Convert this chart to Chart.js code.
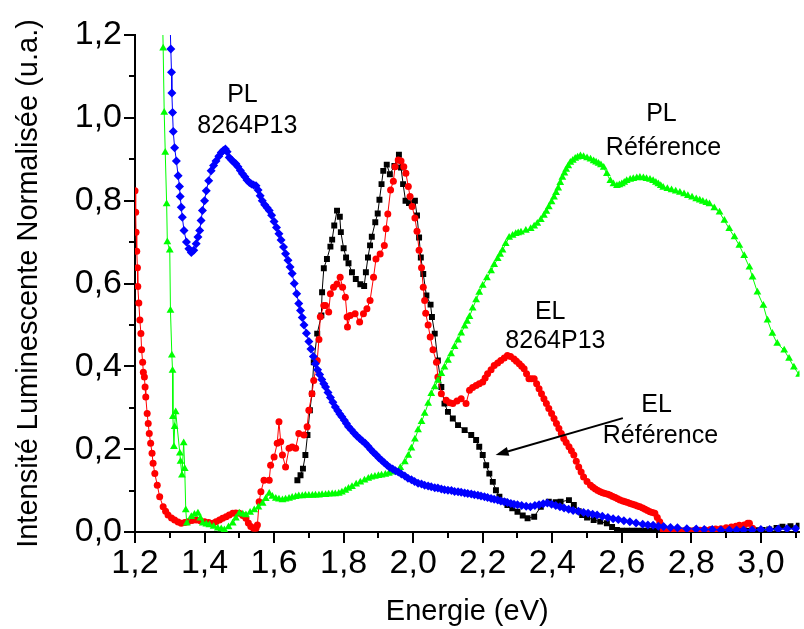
<!DOCTYPE html>
<html>
<head>
<meta charset="utf-8">
<script src="https://cdn.jsdelivr.net/npm/chart.js@4.4.1/dist/chart.umd.min.js"></script>
<style>
  html, body { margin: 0; padding: 0; background: #fff; }
</style>
</head>
<body>
<canvas id="spectra" width="804" height="629"></canvas>
<script>
"use strict";

// axis ticks
const xMajor = [1.2, 1.4, 1.6, 1.8, 2.0, 2.2, 2.4, 2.6, 2.8, 3.0];
const xMinor = [1.3, 1.5, 1.7, 1.9, 2.1, 2.3, 2.5, 2.7, 2.9, 3.1];
const yMajor = [0, 0.2, 0.4, 0.6, 0.8, 1.0, 1.2];
const yMinor = [0.1, 0.3, 0.5, 0.7, 0.9, 1.1];

// PL 8264P13 (blue diamonds)
const pl8264 = [
  [1.300, 1.26], [1.303, 1.166], [1.305, 1.11], [1.306, 1.06], [1.308, 1.013], [1.310, 0.967],
  [1.314, 0.928], [1.319, 0.896], [1.324, 0.86], [1.328, 0.834], [1.330, 0.81], [1.333, 0.784],
  [1.336, 0.76], [1.341, 0.728], [1.348, 0.70], [1.355, 0.684], [1.362, 0.675], [1.369, 0.68],
  [1.376, 0.696], [1.381, 0.712], [1.386, 0.728], [1.390, 0.752], [1.394, 0.776], [1.400, 0.80],
  [1.405, 0.824], [1.412, 0.848], [1.419, 0.872], [1.426, 0.885], [1.433, 0.896], [1.441, 0.907],
  [1.448, 0.916], [1.454, 0.921], [1.460, 0.925], [1.465, 0.918], [1.471, 0.904], [1.478, 0.898],
  [1.484, 0.893], [1.490, 0.889], [1.496, 0.882], [1.503, 0.873], [1.509, 0.865], [1.516, 0.858],
  [1.522, 0.85], [1.529, 0.844], [1.535, 0.84], [1.541, 0.838], [1.548, 0.836], [1.554, 0.826],
  [1.560, 0.812], [1.566, 0.80], [1.573, 0.79], [1.580, 0.783], [1.586, 0.776], [1.593, 0.765],
  [1.600, 0.75], [1.607, 0.735], [1.614, 0.72], [1.620, 0.705], [1.627, 0.688], [1.633, 0.672],
  [1.640, 0.656], [1.646, 0.64], [1.652, 0.624], [1.658, 0.60], [1.665, 0.575], [1.671, 0.552],
  [1.676, 0.535], [1.681, 0.518], [1.686, 0.50], [1.693, 0.48], [1.700, 0.46], [1.706, 0.442],
  [1.713, 0.424], [1.719, 0.406], [1.725, 0.392], [1.731, 0.38], [1.737, 0.368], [1.743, 0.358],
  [1.748, 0.35], [1.755, 0.337], [1.762, 0.325], [1.769, 0.313], [1.776, 0.302], [1.783, 0.293],
  [1.789, 0.285], [1.795, 0.278], [1.802, 0.27], [1.808, 0.262], [1.814, 0.254], [1.822, 0.247],
  [1.830, 0.239], [1.838, 0.232], [1.846, 0.226], [1.854, 0.22], [1.862, 0.214], [1.870, 0.207],
  [1.878, 0.199], [1.886, 0.192], [1.894, 0.186], [1.901, 0.179], [1.909, 0.173], [1.917, 0.167],
  [1.925, 0.161], [1.933, 0.156], [1.941, 0.152], [1.949, 0.148], [1.957, 0.145], [1.966, 0.14],
  [1.976, 0.135], [1.985, 0.13], [1.995, 0.126], [2.004, 0.122], [2.014, 0.118], [2.024, 0.116],
  [2.033, 0.113], [2.043, 0.111], [2.052, 0.109], [2.062, 0.107], [2.071, 0.106], [2.081, 0.104],
  [2.090, 0.102], [2.100, 0.101], [2.110, 0.10], [2.119, 0.098], [2.129, 0.097], [2.138, 0.096],
  [2.148, 0.094], [2.157, 0.093], [2.167, 0.092], [2.176, 0.09], [2.186, 0.089], [2.195, 0.087],
  [2.205, 0.085], [2.214, 0.083], [2.224, 0.081], [2.233, 0.079], [2.243, 0.077], [2.252, 0.075],
  [2.262, 0.073], [2.271, 0.071], [2.281, 0.069], [2.290, 0.067], [2.300, 0.066], [2.312, 0.064],
  [2.325, 0.062], [2.337, 0.061], [2.350, 0.064], [2.362, 0.066], [2.374, 0.068], [2.386, 0.07],
  [2.398, 0.067], [2.410, 0.064], [2.422, 0.061], [2.434, 0.058], [2.447, 0.055], [2.460, 0.052],
  [2.475, 0.05], [2.490, 0.047], [2.503, 0.045], [2.516, 0.043], [2.529, 0.041], [2.544, 0.038],
  [2.560, 0.035], [2.575, 0.032], [2.590, 0.030], [2.606, 0.027], [2.623, 0.025], [2.641, 0.022],
  [2.660, 0.019], [2.675, 0.017], [2.690, 0.016], [2.705, 0.014], [2.720, 0.013], [2.740, 0.011],
  [2.760, 0.010], [2.787, 0.008], [2.814, 0.007], [2.837, 0.006], [2.860, 0.006], [2.885, 0.005],
  [2.909, 0.005], [2.930, 0.005], [2.950, 0.005], [2.975, 0.005], [3.000, 0.006], [3.025, 0.006],
  [3.050, 0.007], [3.075, 0.008], [3.100, 0.008]
];

// PL Référence (green triangles)
const plRef = [
  [1.279, 1.26], [1.281, 1.168], [1.284, 1.013], [1.287, 0.916], [1.291, 0.792], [1.293, 0.70],
  [1.300, 0.68], [1.302, 0.535], [1.306, 0.427], [1.308, 0.39], [1.309, 0.278], [1.312, 0.206],
  [1.314, 0.254], [1.317, 0.29], [1.329, 0.19], [1.331, 0.17], [1.335, 0.137], [1.340, 0.215],
  [1.343, 0.153], [1.346, 0.053], [1.349, 0.021], [1.362, 0.037], [1.371, 0.042], [1.381, 0.045],
  [1.388, 0.033], [1.395, 0.021], [1.405, 0.019], [1.414, 0.017], [1.426, 0.013], [1.438, 0.009],
  [1.448, 0.007], [1.457, 0.005], [1.469, 0.012], [1.481, 0.021], [1.490, 0.033], [1.500, 0.045],
  [1.510, 0.043], [1.519, 0.041], [1.531, 0.047], [1.543, 0.053], [1.555, 0.06], [1.567, 0.069],
  [1.576, 0.08], [1.586, 0.093], [1.595, 0.086], [1.605, 0.081], [1.614, 0.079], [1.624, 0.077],
  [1.633, 0.079], [1.643, 0.081], [1.652, 0.083], [1.662, 0.085], [1.671, 0.087], [1.681, 0.087],
  [1.690, 0.088], [1.700, 0.088], [1.710, 0.088], [1.719, 0.089], [1.729, 0.089], [1.738, 0.09],
  [1.748, 0.09], [1.757, 0.091], [1.767, 0.092], [1.776, 0.092], [1.786, 0.093], [1.795, 0.096],
  [1.805, 0.10], [1.814, 0.105], [1.824, 0.109], [1.836, 0.115], [1.848, 0.12], [1.860, 0.125],
  [1.871, 0.129], [1.880, 0.132], [1.890, 0.134], [1.900, 0.136], [1.909, 0.137], [1.920, 0.139],
  [1.930, 0.141], [1.939, 0.144], [1.948, 0.147], [1.963, 0.155], [1.976, 0.169], [1.986, 0.185],
  [1.995, 0.202], [2.005, 0.224], [2.014, 0.246], [2.024, 0.266], [2.033, 0.286], [2.043, 0.31],
  [2.052, 0.334], [2.062, 0.35], [2.071, 0.366], [2.081, 0.382], [2.090, 0.398], [2.100, 0.414],
  [2.109, 0.43], [2.119, 0.447], [2.129, 0.463], [2.138, 0.48], [2.148, 0.497], [2.155, 0.508],
  [2.162, 0.52], [2.171, 0.54], [2.181, 0.56], [2.190, 0.578], [2.200, 0.595], [2.212, 0.613],
  [2.224, 0.63], [2.233, 0.645], [2.243, 0.66], [2.250, 0.67], [2.257, 0.68], [2.266, 0.696],
  [2.276, 0.711], [2.286, 0.716], [2.295, 0.72], [2.302, 0.722], [2.310, 0.724], [2.324, 0.728],
  [2.338, 0.732], [2.348, 0.738], [2.357, 0.745], [2.367, 0.754], [2.376, 0.764], [2.383, 0.774],
  [2.390, 0.785], [2.398, 0.797], [2.405, 0.808], [2.411, 0.819], [2.417, 0.83], [2.423, 0.843],
  [2.429, 0.856], [2.435, 0.866], [2.440, 0.875], [2.446, 0.884], [2.452, 0.892], [2.459, 0.897],
  [2.466, 0.902], [2.473, 0.905], [2.481, 0.908], [2.490, 0.906], [2.500, 0.903], [2.510, 0.90],
  [2.519, 0.896], [2.526, 0.893], [2.533, 0.89], [2.540, 0.886], [2.548, 0.88], [2.557, 0.865],
  [2.567, 0.848], [2.576, 0.84], [2.586, 0.836], [2.593, 0.838], [2.600, 0.84], [2.607, 0.844],
  [2.614, 0.848], [2.624, 0.851], [2.633, 0.853], [2.643, 0.855], [2.652, 0.856], [2.662, 0.855],
  [2.671, 0.853], [2.681, 0.851], [2.690, 0.848], [2.698, 0.844], [2.705, 0.84], [2.712, 0.836],
  [2.719, 0.832], [2.731, 0.829], [2.743, 0.826], [2.755, 0.823], [2.767, 0.82], [2.779, 0.816],
  [2.790, 0.812], [2.802, 0.808], [2.814, 0.804], [2.824, 0.801], [2.833, 0.798], [2.843, 0.795],
  [2.852, 0.792], [2.866, 0.782], [2.881, 0.772], [2.895, 0.752], [2.909, 0.732], [2.924, 0.712],
  [2.938, 0.692], [2.952, 0.667], [2.967, 0.639], [2.976, 0.615], [2.990, 0.579], [3.007, 0.547],
  [3.019, 0.511], [3.033, 0.479], [3.047, 0.455], [3.067, 0.439], [3.081, 0.419], [3.095, 0.398],
  [3.110, 0.38]
];

// EL Référence (black squares)
const elRef = [
  [1.667, 0.125], [1.676, 0.137], [1.683, 0.153], [1.690, 0.186], [1.696, 0.234], [1.703, 0.294],
  [1.709, 0.334], [1.714, 0.41], [1.724, 0.479], [1.736, 0.523], [1.738, 0.579], [1.743, 0.637],
  [1.752, 0.659], [1.762, 0.689], [1.767, 0.706], [1.773, 0.74], [1.781, 0.776], [1.789, 0.761],
  [1.792, 0.724], [1.800, 0.685], [1.807, 0.663], [1.814, 0.649], [1.824, 0.627], [1.835, 0.611],
  [1.848, 0.598], [1.859, 0.594], [1.864, 0.627], [1.870, 0.663], [1.876, 0.692], [1.881, 0.713],
  [1.891, 0.748], [1.898, 0.769], [1.903, 0.802], [1.909, 0.84], [1.914, 0.872], [1.924, 0.887],
  [1.933, 0.864], [1.946, 0.884], [1.959, 0.911], [1.965, 0.88], [1.971, 0.84], [1.978, 0.80],
  [1.988, 0.794], [2.005, 0.80], [2.011, 0.764], [2.017, 0.711], [2.022, 0.663], [2.029, 0.623],
  [2.038, 0.571], [2.050, 0.549], [2.054, 0.519], [2.062, 0.479], [2.071, 0.414], [2.081, 0.35],
  [2.090, 0.31], [2.100, 0.29], [2.114, 0.274], [2.129, 0.258], [2.148, 0.246], [2.167, 0.234],
  [2.181, 0.222], [2.190, 0.206], [2.200, 0.186], [2.210, 0.161], [2.219, 0.141], [2.229, 0.121],
  [2.238, 0.101], [2.248, 0.085], [2.260, 0.074], [2.271, 0.065], [2.285, 0.057], [2.300, 0.049],
  [2.315, 0.04], [2.329, 0.033], [2.348, 0.037], [2.367, 0.061], [2.390, 0.073], [2.410, 0.072],
  [2.424, 0.073], [2.448, 0.077], [2.462, 0.065], [2.476, 0.05], [2.486, 0.041], [2.500, 0.035],
  [2.519, 0.029], [2.538, 0.025], [2.557, 0.021], [2.572, 0.012], [2.586, 0.005], [2.600, 0.003],
  [2.615, 0.003], [2.630, 0.003], [2.645, 0.003], [2.660, 0.003], [2.675, 0.003], [2.690, 0.003],
  [2.705, 0.003], [2.720, 0.003], [2.735, 0.003], [2.750, 0.003], [2.765, 0.003], [2.780, 0.003],
  [2.795, 0.003], [2.810, 0.003], [2.825, 0.003], [2.840, 0.003], [2.855, 0.003], [2.870, 0.003],
  [2.885, 0.003], [2.900, 0.003], [2.915, 0.003], [2.930, 0.003], [2.945, 0.003], [2.960, 0.003],
  [2.975, 0.003], [2.990, 0.004], [3.005, 0.005], [3.024, 0.006], [3.045, 0.01], [3.062, 0.013],
  [3.085, 0.014], [3.109, 0.015]
];

// EL 8264P13 (red circles)
const el8264 = [
  [1.200, 0.824], [1.202, 0.772], [1.203, 0.724], [1.205, 0.678], [1.207, 0.638], [1.208, 0.593],
  [1.211, 0.553], [1.214, 0.512], [1.217, 0.479], [1.219, 0.44], [1.222, 0.41], [1.224, 0.386],
  [1.227, 0.374], [1.229, 0.35], [1.231, 0.326], [1.235, 0.286], [1.238, 0.262], [1.241, 0.238],
  [1.245, 0.214], [1.249, 0.19], [1.252, 0.166], [1.257, 0.141], [1.264, 0.113], [1.271, 0.085],
  [1.281, 0.061], [1.288, 0.05], [1.295, 0.041], [1.305, 0.034], [1.314, 0.029], [1.324, 0.024],
  [1.333, 0.021], [1.343, 0.023], [1.352, 0.025], [1.364, 0.028], [1.376, 0.029], [1.388, 0.027],
  [1.400, 0.025], [1.412, 0.023], [1.424, 0.021], [1.433, 0.025], [1.443, 0.029], [1.452, 0.033],
  [1.462, 0.037], [1.471, 0.041], [1.481, 0.045], [1.490, 0.046], [1.500, 0.045], [1.510, 0.04],
  [1.519, 0.033], [1.526, 0.022], [1.533, 0.013], [1.541, 0.009], [1.548, 0.009], [1.552, 0.017],
  [1.557, 0.073], [1.562, 0.097], [1.571, 0.125], [1.586, 0.125], [1.590, 0.161], [1.600, 0.181],
  [1.609, 0.214], [1.614, 0.266], [1.619, 0.218], [1.624, 0.186], [1.633, 0.157], [1.643, 0.202],
  [1.652, 0.205], [1.662, 0.202], [1.671, 0.238], [1.686, 0.234], [1.695, 0.254], [1.700, 0.294],
  [1.709, 0.334], [1.714, 0.366], [1.724, 0.414], [1.729, 0.465], [1.733, 0.52], [1.743, 0.547],
  [1.748, 0.547], [1.757, 0.531], [1.762, 0.575], [1.771, 0.591], [1.781, 0.599], [1.790, 0.615],
  [1.797, 0.591], [1.805, 0.567], [1.810, 0.519], [1.811, 0.495], [1.819, 0.523], [1.833, 0.527],
  [1.846, 0.507], [1.857, 0.527], [1.867, 0.539], [1.876, 0.559], [1.886, 0.615], [1.893, 0.659],
  [1.905, 0.671], [1.917, 0.692], [1.922, 0.732], [1.927, 0.768], [1.935, 0.826], [1.943, 0.847],
  [1.948, 0.882], [1.957, 0.898], [1.965, 0.896], [1.973, 0.882], [1.979, 0.866], [1.986, 0.834],
  [1.991, 0.81], [1.997, 0.786], [2.005, 0.758], [2.011, 0.726], [2.017, 0.68], [2.024, 0.638],
  [2.029, 0.591], [2.033, 0.559], [2.036, 0.528], [2.043, 0.50], [2.049, 0.471], [2.057, 0.44],
  [2.067, 0.41], [2.071, 0.374], [2.081, 0.334], [2.095, 0.318], [2.105, 0.312], [2.114, 0.31],
  [2.126, 0.316], [2.138, 0.322], [2.152, 0.31], [2.162, 0.342], [2.171, 0.349], [2.181, 0.354],
  [2.190, 0.358], [2.200, 0.362], [2.207, 0.372], [2.214, 0.382], [2.224, 0.392], [2.233, 0.402],
  [2.243, 0.408], [2.252, 0.414], [2.262, 0.42], [2.271, 0.426], [2.280, 0.424], [2.290, 0.418],
  [2.297, 0.412], [2.305, 0.406], [2.312, 0.40], [2.319, 0.394], [2.326, 0.382], [2.333, 0.37],
  [2.340, 0.37], [2.348, 0.37], [2.355, 0.358], [2.362, 0.346], [2.369, 0.334], [2.376, 0.322],
  [2.383, 0.31], [2.390, 0.298], [2.398, 0.286], [2.405, 0.274], [2.412, 0.262], [2.419, 0.25],
  [2.426, 0.238], [2.433, 0.226], [2.440, 0.216], [2.448, 0.206], [2.455, 0.196], [2.462, 0.186],
  [2.469, 0.171], [2.476, 0.157], [2.483, 0.145], [2.490, 0.133], [2.500, 0.122], [2.510, 0.113],
  [2.517, 0.108], [2.524, 0.104], [2.531, 0.10], [2.538, 0.097], [2.545, 0.095], [2.552, 0.093],
  [2.560, 0.091], [2.567, 0.089], [2.574, 0.086], [2.581, 0.083], [2.588, 0.08], [2.595, 0.077],
  [2.603, 0.075], [2.610, 0.073], [2.617, 0.071], [2.624, 0.069], [2.631, 0.067], [2.638, 0.065],
  [2.645, 0.063], [2.652, 0.061], [2.660, 0.058], [2.667, 0.055], [2.674, 0.052], [2.681, 0.049],
  [2.688, 0.047], [2.695, 0.045], [2.702, 0.035], [2.709, 0.025], [2.719, 0.005], [2.735, 0.004],
  [2.750, 0.003], [2.765, 0.003], [2.780, 0.003], [2.795, 0.003], [2.810, 0.004], [2.825, 0.004],
  [2.840, 0.005], [2.855, 0.006], [2.870, 0.007], [2.885, 0.008], [2.900, 0.01], [2.915, 0.012],
  [2.928, 0.014], [2.938, 0.016], [2.952, 0.017], [2.962, 0.021], [2.967, 0.021], [2.976, 0.009]
];

// text labels on the plot: [text, x, y]
const notes = [
  ["PL", 1.509, 1.056], ["8264P13", 1.523, 0.981],
  ["PL", 2.714, 1.008], ["Référence", 2.72, 0.928],
  ["EL", 2.394, 0.53], ["8264P13", 2.409, 0.46],
  ["EL", 2.70, 0.306], ["Référence", 2.711, 0.231]
];
// arrow from the "EL Référence" label to the black curve: [x1, y1, x2, y2]
const arrow = [2.603, 0.275, 2.237, 0.186];

const fmt = (v) => v.toFixed(1).replace(".", ",");
const toPts = (arr) => arr.map((p) => ({ x: p[0], y: p[1] }));

const tickMarks = {
  id: "tickMarks",
  afterDraw(chart) {
    const { ctx, scales: { x, y }, chartArea } = chart;
    ctx.save();
    ctx.strokeStyle = "#000";
    ctx.lineWidth = 2;
    ctx.beginPath();
    xMajor.concat(xMinor).forEach((v) => {
      const px = Math.round(x.getPixelForValue(v));
      if (px > chartArea.right + 1) return;
      const len = xMajor.includes(v) ? 11 : 6;
      ctx.moveTo(px, chartArea.bottom);
      ctx.lineTo(px, chartArea.bottom + len);
    });
    yMajor.concat(yMinor).forEach((v) => {
      const py = Math.round(y.getPixelForValue(v));
      const len = yMajor.includes(v) ? 11 : 6;
      ctx.moveTo(chartArea.left, py);
      ctx.lineTo(chartArea.left - len, py);
    });
    ctx.stroke();
    ctx.restore();
  },
};

const notesPlugin = {
  id: "notes",
  afterDraw(chart) {
    const { ctx, scales: { x, y } } = chart;
    ctx.save();
    ctx.fillStyle = "#000";
    ctx.font = "25px 'Liberation Sans', Arial, sans-serif";
    ctx.textAlign = "center";
    ctx.textBaseline = "middle";
    notes.forEach(([t, vx, vy]) => {
      ctx.fillText(t, x.getPixelForValue(vx), y.getPixelForValue(vy));
    });
    // arrow
    const x1 = x.getPixelForValue(arrow[0]), y1 = y.getPixelForValue(arrow[1]);
    const x2 = x.getPixelForValue(arrow[2]), y2 = y.getPixelForValue(arrow[3]);
    const a = Math.atan2(y2 - y1, x2 - x1);
    ctx.strokeStyle = "#000";
    ctx.lineWidth = 2;
    ctx.beginPath();
    ctx.moveTo(x1, y1);
    ctx.lineTo(x2 - 8 * Math.cos(a), y2 - 8 * Math.sin(a));
    ctx.stroke();
    ctx.beginPath();
    ctx.moveTo(x2, y2);
    ctx.lineTo(x2 - 13 * Math.cos(a) + 4.5 * Math.sin(a), y2 - 13 * Math.sin(a) - 4.5 * Math.cos(a));
    ctx.lineTo(x2 - 13 * Math.cos(a) - 4.5 * Math.sin(a), y2 - 13 * Math.sin(a) + 4.5 * Math.cos(a));
    ctx.closePath();
    ctx.fill();
    ctx.restore();
  },
};

const series = (label, data, color, style, radius) => ({
  label: label,
  data: toPts(data),
  borderColor: color,
  backgroundColor: color,
  borderWidth: 1,
  pointStyle: style,
  pointRadius: radius,
  pointBorderWidth: 0,
  pointBackgroundColor: color,
  tension: 0,
});

const ctx = document.getElementById("spectra").getContext("2d");
new Chart(ctx, {
  type: "line",
  data: {
    datasets: [
      series("PL 8264P13", pl8264, "#0000ff", "rectRot", 4.5),
      series("PL Référence", plRef, "#00ff00", "triangle", 4.5),
      series("EL 8264P13", el8264, "#ff0000", "circle", 3.5),
      series("EL Référence", elRef, "#000000", "rect", 4.2),
    ],
  },
  options: {
    responsive: false,
    animation: false,
    layout: { padding: { top: 35, right: 0, left: 0, bottom: 0 } },
    plugins: {
      legend: { display: false },
      tooltip: { enabled: false },
    },
    scales: {
      x: {
        type: "linear",
        min: 1.2,
        max: 3.111,
        afterBuildTicks: (axis) => { axis.ticks = xMajor.map((v) => ({ value: v })); },
        afterFit: (s) => { s.height = 97; },
        grid: { display: false, drawTicks: false },
        border: { display: true, color: "#000", width: 2 },
        ticks: {
          callback: (v) => fmt(v),
          color: "#000",
          padding: 11,
          maxRotation: 0,
          autoSkip: false,
          font: { family: "'Liberation Sans', Arial, sans-serif", size: 34 },
        },
        title: {
          display: true,
          text: "Energie (eV)",
          color: "#000",
          padding: { top: 0, bottom: 0 },
          font: { family: "'Liberation Sans', Arial, sans-serif", size: 29 },
        },
      },
      y: {
        type: "linear",
        min: 0,
        max: 1.2,
        afterBuildTicks: (axis) => { axis.ticks = yMajor.map((v) => ({ value: v })); },
        afterFit: (s) => { s.width = 135; },
        grid: { display: false, drawTicks: false },
        border: { display: true, color: "#000", width: 2 },
        ticks: {
          callback: (v) => fmt(v),
          color: "#000",
          padding: 13,
          autoSkip: false,
          font: { family: "'Liberation Sans', Arial, sans-serif", size: 34 },
        },
        title: {
          display: true,
          text: "Intensité Luminescente Normalisée (u.a.)",
          color: "#000",
          padding: { top: 12, bottom: 0 },
          font: { family: "'Liberation Sans', Arial, sans-serif", size: 29 },
        },
      },
    },
  },
  plugins: [tickMarks, notesPlugin],
});
</script>
</body>
</html>
